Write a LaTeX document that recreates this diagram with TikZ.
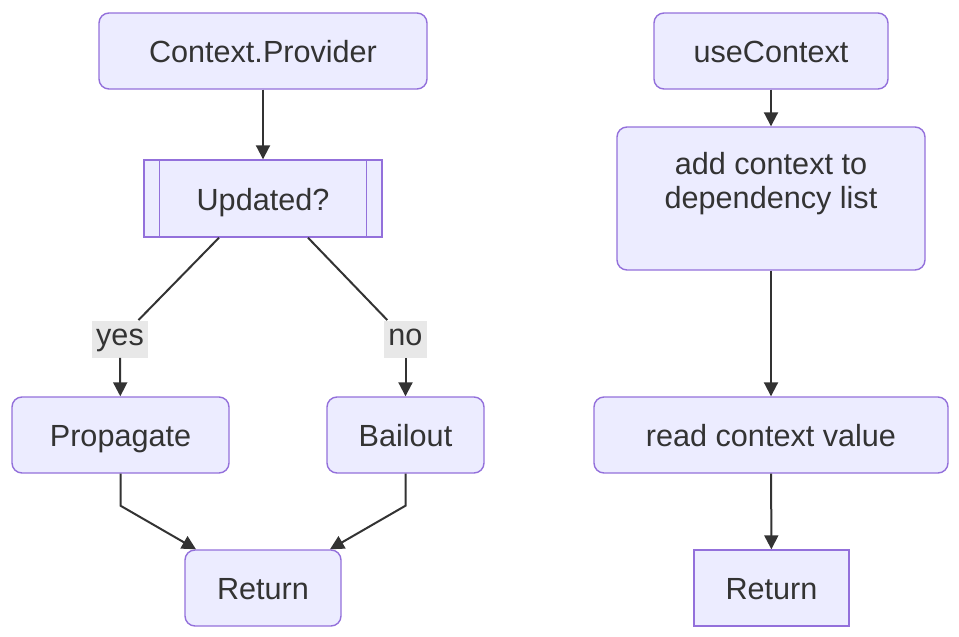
\documentclass[tikz,border=0pt]{standalone}
\usepackage{fontspec}
\setmainfont{Liberation Sans}
\usetikzlibrary{arrows.meta}
\definecolor{boxfill}{HTML}{ECECFF}
\definecolor{boxline}{HTML}{9370DB}
\definecolor{ink}{HTML}{333333}
\definecolor{lblfill}{HTML}{E8E8E8}
\tikzset{
  box/.style={draw=boxline,fill=boxfill,line width=.7pt,rounded corners=5pt,text=ink,align=center,inner sep=0pt,text height=11.5pt,text depth=0pt},
  sqbox/.style={box,rounded corners=0pt},
  lbl/.style={fill=lblfill,text=ink,inner xsep=2.2pt,inner ysep=2pt,text height=10.5pt,text depth=4pt},
  flow/.style={draw=ink,line width=1pt}
}
\begin{document}
\begin{tikzpicture}[>={Triangle[length=7pt,width=7pt]},x=.5pt,y=-.5pt,font=\fontsize{15.3}{17}\selectfont]
\useasboundingbox (0,0) rectangle (959,637);
% left flow
\node[box,minimum width=164pt,minimum height=38pt](cp) at (263,51) {Context.Provider};
\node[sqbox,minimum width=119pt,minimum height=38.5pt](upd) at (263,198.5) {Updated?};
\draw[boxline,line width=.7pt]([xshift=8pt]upd.north west)--([xshift=8pt]upd.south west);
\draw[boxline,line width=.7pt]([xshift=-8pt]upd.north east)--([xshift=-8pt]upd.south east);
\node[box,minimum width=108.5pt,minimum height=38pt](prop) at (120.5,435) {Propagate};
\node[box,minimum width=78.5pt,minimum height=38pt](bail) at (405.5,435) {Bailout};
\node[box,minimum width=78pt,minimum height=38pt](ret) at (263,588) {Return};
\node[lbl](yes) at (120,339) {yes};
\node[lbl](no) at (405.5,339) {no};
\draw[flow,->](cp)--(upd);
\draw[flow]([xshift=-22pt]upd.south)--(yes);
\draw[flow,->](yes)--(prop);
\draw[flow]([xshift=22.5pt]upd.south)--(no);
\draw[flow,->](no)--(bail);
\draw[flow,->](prop.south)--++(0,32)--(ret);
\draw[flow,->](bail.south)--++(0,32)--(ret);
% right flow
\node[box,minimum width=117pt,minimum height=38pt](use) at (771,51) {useContext};
\node[box,minimum width=154pt,minimum height=71.5pt,text height=28pt,text depth=18.5pt](add) at (771,198.5) {add context to\\dependency list};
\node[box,minimum width=177pt,minimum height=38pt](read) at (771,435) {read context value};
\node[sqbox,minimum width=77.5pt,minimum height=38pt](ret2) at (771.5,588) {Return};
\draw[flow,->](use)--(add);
\draw[flow,->](add)--(read);
\draw[flow,->](read)--(ret2);
\end{tikzpicture}
\end{document}
